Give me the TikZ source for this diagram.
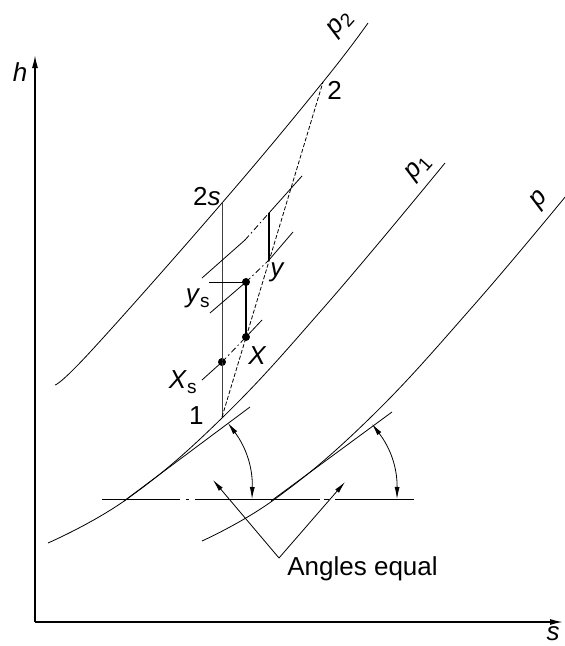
\documentclass[tikz,border=0pt]{standalone}
\usepackage{fontspec}
\setmainfont{Liberation Sans}
\usetikzlibrary{arrows.meta, calc, positioning}

\begin{document}
\begin{tikzpicture}[x=1pt, y=-1pt, line width=0.8pt,
    lbl/.style={font=\fontsize{26}{30}\selectfont, inner sep=0pt},
    dashdot/.style={dash pattern=on 6pt off 3pt on 1.5pt off 3pt},
    dot/.style={circle, fill=black, inner sep=0pt, minimum size=8pt},
    tip/.style={-{Latex[length=12pt, width=5pt]}},
    twotip/.style={{Latex[length=12pt, width=5pt]}-{Latex[length=12pt, width=5pt]}}]
  \useasboundingbox (0,0) rectangle (565,646);

  % axes
  \coordinate (origin) at (35,622);
  \coordinate (htop) at (35,55);
  \coordinate (send) at (563,622);
  \draw[line width=1.5pt, -{Latex[length=13pt, width=6pt]}] (origin) -- (htop);
  \draw[line width=1.5pt, -{Latex[length=13pt, width=6pt]}] (origin) -- (send);
  \node[lbl] (hlab) at (20,72) {\textit{h}};
  \node[lbl] (slab) at (553,634) {\textit{s}};

  % isobars
  \draw plot[smooth, tension=0.7] coordinates {(55,385) (92,350) (222,203) (323,82) (368,23)};
  \draw plot[smooth, tension=0.7] coordinates {(48,543) (127,499) (222,418) (326,305) (445,163)};
  \draw plot[smooth, tension=0.7] coordinates {(202,541) (275,499) (370,418) (474,305) (575,185)};
  \node[lbl, rotate=48] (ptwo) at (341,24) {\textit{p}\raisebox{-4pt}{\fontsize{19}{21}\selectfont 2}};
  \node[lbl, rotate=48] (pone) at (419,168) {\textit{p}\raisebox{-4pt}{\fontsize{19}{21}\selectfont 1}};
  \node[lbl, rotate=48] (pzero) at (540,200) {\textit{p}};

  % states
  \coordinate (one) at (222,417);
  \coordinate (two) at (323,82);
  \coordinate (twos) at (222,203);
  \node[dot] (X) at (246,337) {};
  \node[dot] (Xs) at (222,362) {};
  \coordinate (y) at (269,260);
  \node[dot] (ys) at (246,282) {};
  \coordinate (yA) at (269,213);

  \draw[black!75] (one) -- (twos);
  \draw[dash pattern=on 4pt off 2pt] (one) -- (two);
  \draw[line width=1.2pt] (X.center) -- (ys.center);
  \draw[line width=1.2pt] (y) -- (yA);
  \draw (209,282) -- (ys.center);

  % stage isobars
  \draw (202,380) -- (Xs.center);
  \draw[dashdot] (Xs.center) -- (X.center);
  \draw (X.center) -- (262,320);
  \draw (210,313) -- (ys.center);
  \draw[dashdot] (ys.center) -- (y);
  \draw (y) -- (293,232);
  \draw (202,278) -- (245,240);
  \draw[dashdot] (245,240) -- (yA);
  \draw (yA) -- (302,176);

  \node[lbl, anchor=base east] (twoslab) at (221,205) {2\textit{s}};
  \node[lbl, anchor=base west] (twolab) at (327,99) {2};
  \node[lbl, anchor=base east] (onelab) at (204,424) {1};
  \node[lbl, anchor=base west] (Xlab) at (248,364) {\textit{X}};
  \node[lbl, anchor=base east] (Xslab) at (197,388) {\textit{X}\raisebox{-5pt}{\fontsize{19}{21}\selectfont s}};
  \node[lbl, anchor=base west] (ylab) at (270,276) {\textit{y}};
  \node[lbl, anchor=base east] (yslab) at (210,302) {\textit{y}\raisebox{-5pt}{\fontsize{19}{21}\selectfont s}};

  % tangents and horizontal
  \draw (124,501) -- (250,407);
  \draw (271,501) -- (392,412);
  \foreach \a/\b in {102/180, 186/189, 195/320, 324/329, 335/414}
    \draw (\a,499) -- (\b,499);

  % angle arrows
  \coordinate (aoneh) at (252,499);
  \coordinate (aonet) at (228,423);
  \coordinate (atwoh) at (397,499);
  \coordinate (atwot) at (372,424);
  \draw[twotip] (aoneh) to[bend right=19] (aonet);
  \draw[twotip] (atwoh) to[bend right=19] (atwot);

  % pointer
  \coordinate (apex) at (279,558);
  \node[lbl, anchor=base west] (angles) at (287,575) {Angles equal};
  \draw[tip] (apex) -- (213,480);
  \draw[tip] (apex) -- (345,482);
\end{tikzpicture}
\end{document}
